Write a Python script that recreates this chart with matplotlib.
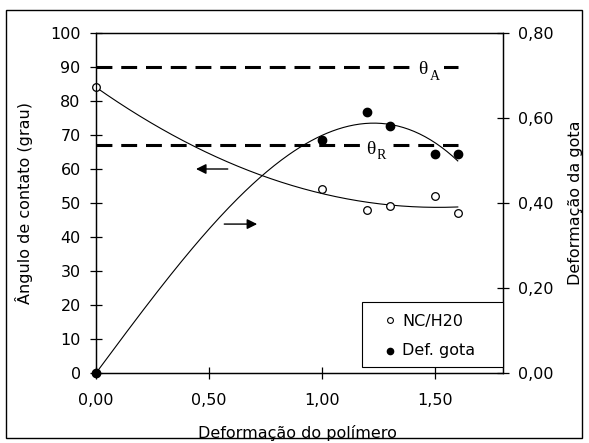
import numpy as np
import matplotlib
matplotlib.use("Agg")
import matplotlib.pyplot as plt
from matplotlib.patches import Rectangle

plt.rcParams['font.family'] = ['DejaVu Sans']

# Data
x_nc = [0.0, 1.0, 1.2, 1.3, 1.5, 1.6]
y_nc = [84, 54, 48, 49, 52, 47]          # contact angle (grau)
x_def = [0.0, 1.0, 1.2, 1.3, 1.5, 1.6]
y_def = [0.0, 0.548, 0.613, 0.581, 0.515, 0.515]  # drop deformation
theta_A = 90
theta_R = 67
ref_x = [0.0, 1.6]
xticks = [0.0, 0.5, 1.0, 1.5]
xtick_labels = ["0,00", "0,50", "1,00", "1,50"]
y1ticks = list(range(0, 101, 10))
y2ticks = [0.0, 0.2, 0.4, 0.6, 0.8]
y2tick_labels = ["0,00", "0,20", "0,40", "0,60", "0,80"]
legend_labels = ["NC/H20", "Def. gota"]

W, H = 589, 443
fig = plt.figure(figsize=(W / 100, H / 100), dpi=100)
ax = fig.add_axes([96 / W, 1 - 373 / H, (503 - 96) / W, (373 - 33) / H])
ax2 = ax.twinx()

fs = 11.5
# Trend lines (polynomial fits of the data, as in spreadsheet trendlines)
xs = np.linspace(0, 1.6, 200)
p_nc = np.polyfit(x_nc, y_nc, 2)
p_def = np.polyfit(x_def, y_def, 3)
ax.plot(xs, np.polyval(p_nc, xs), color='black', lw=0.8, zorder=3)
ax2.plot(xs, np.polyval(p_def, xs), color='black', lw=0.8, zorder=3)

# Reference dashed lines
for yv in (theta_A, theta_R):
    ax.plot(ref_x, [yv, yv], color='black', lw=2.2, linestyle=(0, (5.2, 2.9)), zorder=2)

ax.plot(x_nc, y_nc, 'o', mfc='white', mec='black', ms=5.5, mew=0.9, clip_on=False, zorder=5)
ax2.plot(x_def, y_def, 'o', mfc='black', mec='black', ms=6.0, clip_on=False, zorder=5)

# theta labels (subscripts drawn first, theta on top)
ax.text(1.497, 87.1, "A", family='Liberation Serif', fontsize=10, ha='center', va='center',
        bbox=dict(facecolor='white', edgecolor='none', pad=3.5), zorder=4)
ax.text(1.446, 89.4, "θ", family='Liberation Serif', fontsize=14, ha='center', va='center',
        bbox=dict(facecolor='white', edgecolor='none', pad=1.5), zorder=4.2)
ax.text(1.262, 64.0, "R", family='Liberation Serif', fontsize=10, ha='center', va='center',
        bbox=dict(facecolor='white', edgecolor='none', pad=4.0), zorder=4)
ax.text(1.216, 65.6, "θ", family='Liberation Serif', fontsize=14, ha='center', va='center',
        bbox=dict(facecolor='white', edgecolor='none', pad=1.5), zorder=4.2)

# Arrows
ax.annotate("", xy=(0.43, 60), xytext=(0.595, 60),
            arrowprops=dict(arrowstyle='-|>', color='black', lw=1.0, mutation_scale=15), zorder=4)
ax.annotate("", xy=(0.725, 43.8), xytext=(0.555, 43.8),
            arrowprops=dict(arrowstyle='-|>', color='black', lw=1.0, mutation_scale=15), zorder=4)

ax.set_xlim(0, 1.8)
ax.set_ylim(0, 100)
ax2.set_ylim(0, 0.8)
ax.set_xticks(xticks)
ax.set_xticklabels(xtick_labels)
ax.set_yticks(y1ticks)
ax2.set_yticks(y2ticks)
ax2.set_yticklabels(y2tick_labels)

for a in (ax, ax2):
    a.tick_params(direction='inout', length=9, width=0.9, labelsize=fs, colors='black')
    for s in a.spines.values():
        s.set_linewidth(0.9)
ax.tick_params(axis='y', pad=6.5)
ax.tick_params(axis='x', pad=10)
ax2.tick_params(axis='y', pad=6.5)

ax.set_xlabel("Deformação do polímero", fontsize=fs)
ax.xaxis.set_label_coords(0.495, -0.152)
ax.set_ylabel("Ângulo de contato (grau)", fontsize=fs)
ax.yaxis.set_label_coords(-0.1536, 0.5)
ax2.set_ylabel("Deformação da gota", fontsize=fs)
ax2.yaxis.set_label_coords(1.1585, 0.5)

# Legend (boxed, drawn in axes coordinates)
ax2.add_patch(Rectangle((0.6536, 0.0176), 1.0 - 0.6536, 0.2088 - 0.0176, transform=ax2.transAxes,
                        facecolor='white', edgecolor='black', lw=0.8, zorder=10, clip_on=False))
ax2.plot([0.7224], [0.156], 'o', mfc='white', mec='black', ms=4.2, mew=0.8,
         transform=ax2.transAxes, zorder=11, clip_on=False)
ax2.plot([0.7224], [0.0647], 'o', mfc='black', mec='black', ms=4.5,
         transform=ax2.transAxes, zorder=11, clip_on=False)
ax2.text(0.7518, 0.138, legend_labels[0], fontsize=fs, transform=ax2.transAxes,
         ha='left', va='baseline', zorder=11)
ax2.text(0.7518, 0.053, legend_labels[1], fontsize=fs, transform=ax2.transAxes,
         ha='left', va='baseline', zorder=11)

# Outer frame
fig.patches.append(Rectangle((6 / W, 1 - 438 / H), (582 - 6) / W, (438 - 10) / H,
                             transform=fig.transFigure, fill=False, edgecolor='black', lw=1.0))

fig.savefig("out.png", dpi=100)
